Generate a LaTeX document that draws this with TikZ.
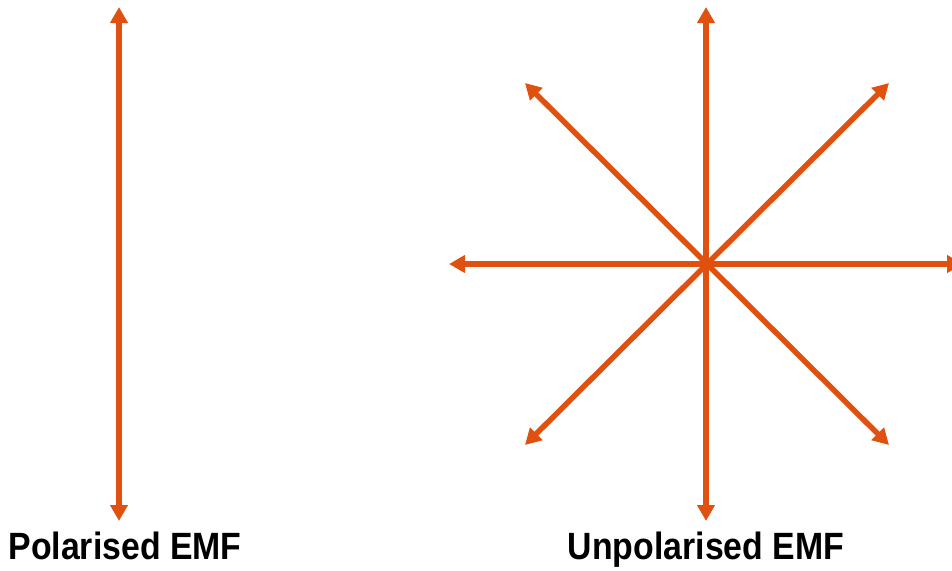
\documentclass[tikz,border=0pt]{standalone}
\usepackage{fontspec}
\newfontfamily\labelfont[FakeStretch=0.89]{Liberation Sans}
\usetikzlibrary{arrows.meta}
\definecolor{emforange}{HTML}{E0500F}
\tikzset{
  field/.style={emforange,line width=5.5pt,{Triangle[length=16pt,width=17pt]}-{Triangle[length=16pt,width=17pt]}},
  caption/.style={anchor=base,inner sep=0pt,font=\labelfont\bfseries\fontsize{38}{40}\selectfont}
}
\begin{document}
\begin{tikzpicture}[x=1pt,y=-1pt]
  \useasboundingbox (0,0) rectangle (952,570);
  \clip (0,0) rectangle (952,570);
  % polarised: one direction only
  \coordinate (ptop) at (119,7);
  \coordinate (pbot) at (119,521);
  \draw[field] (pbot) -- (ptop);
  \node[caption] (plabel) at (125,559) {Polarised EMF};
  % unpolarised: all directions through one point
  \coordinate (c) at (706,264);
  \coordinate (un) at (706,7);
  \coordinate (us) at (706,521);
  \coordinate (uw) at (449,264);
  \coordinate (ue) at (963,264);
  \coordinate (unw) at (525,83);
  \coordinate (une) at (889,83);
  \coordinate (usw) at (525,445);
  \coordinate (use) at (889,445);
  \draw[field] (us) -- (un);
  \draw[field] (uw) -- (ue);
  \draw[field] (usw) -- (une);
  \draw[field] (use) -- (unw);
  \node[caption] (ulabel) at (706,559) {Unpolarised EMF};
\end{tikzpicture}
\end{document}
